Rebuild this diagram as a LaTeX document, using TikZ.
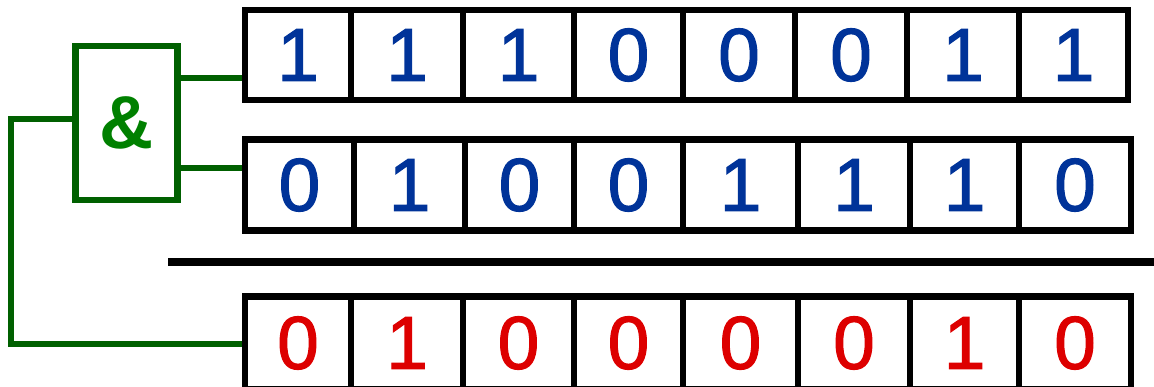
\documentclass[tikz,border=0pt]{standalone}
\usepackage{fontspec}
\setmainfont{Liberation Sans}
\newfontfamily\bitfont{Liberation Sans}[FakeBold=1.5]
\usetikzlibrary{positioning}
\definecolor{bitBlue}{RGB}{0,51,153}
\definecolor{bitRed}{RGB}{221,0,0}
\definecolor{wireGreen}{RGB}{0,96,0}
\definecolor{ampGreen}{RGB}{0,128,0}
\tikzset{
  bitcell/.style={draw=black, line width=0.2cm, inner sep=0pt, outer sep=0pt, font=\bitfont\fontsize{64}{64}\selectfont},
  wire/.style={draw=wireGreen, line width=0.19cm},
}
\begin{document}
\begin{tikzpicture}[x=0.03cm, y=-0.03cm]
  \useasboundingbox (0,0) rectangle (1154,386);
  \clip (0,0) rectangle (1154,386);
  % AND gate
  \node[draw=wireGreen, line width=0.19cm, inner sep=0pt, minimum width=102*0.03cm, minimum height=154*0.03cm,
        font=\bfseries\fontsize{64}{64}\selectfont, text=ampGreen] (gate) at (126.5,123) {\&};
  \coordinate (inA) at (245,78);
  \coordinate (inB) at (245,168);
  \coordinate (outQ) at (245,344);
  \draw[wire] (gate.east |- inA) -- (inA);
  \draw[wire] (gate.east |- inB) -- (inB);
  \draw[wire] (gate.west |- 0,119) -| (11,344) -- (outQ);
  % operand rows
  \foreach \i/\xl/\xr/\b in {1/245/351/1, 2/351/463/1, 3/463/574/1, 4/574/683/0, 5/683/795/0, 6/795/907/0, 7/907/1019/1, 8/1019/1128/1}
    \node[bitcell, text=bitBlue, minimum width={(\xr-\xl)*0.03cm}, minimum height=90*0.03cm] (a\i) at ({(\xl+\xr)/2},55) {\b};
  \foreach \i/\xl/\xr/\b in {1/245/354/0, 2/354/465/1, 3/465/574/0, 4/574/683/0, 5/683/798/1, 6/798/910/1, 7/910/1019/1, 8/1019/1131/0}
    \node[bitcell, text=bitBlue, minimum width={(\xr-\xl)*0.03cm}, minimum height=91*0.03cm] (b\i) at ({(\xl+\xr)/2},185) {\b};
  % result line
  \draw[line width=0.24cm] (168,262) -- (1160,262);
  \foreach \i/\xl/\xr/\b in {1/245/351/0, 2/351/463/1, 3/463/574/0, 4/574/683/0, 5/683/798/0, 6/798/910/0, 7/910/1019/1, 8/1019/1131/0}
    \node[bitcell, text=bitRed, minimum width={(\xr-\xl)*0.03cm}, minimum height=93*0.03cm] (c\i) at ({(\xl+\xr)/2},343) {\b};
\end{tikzpicture}
\end{document}
